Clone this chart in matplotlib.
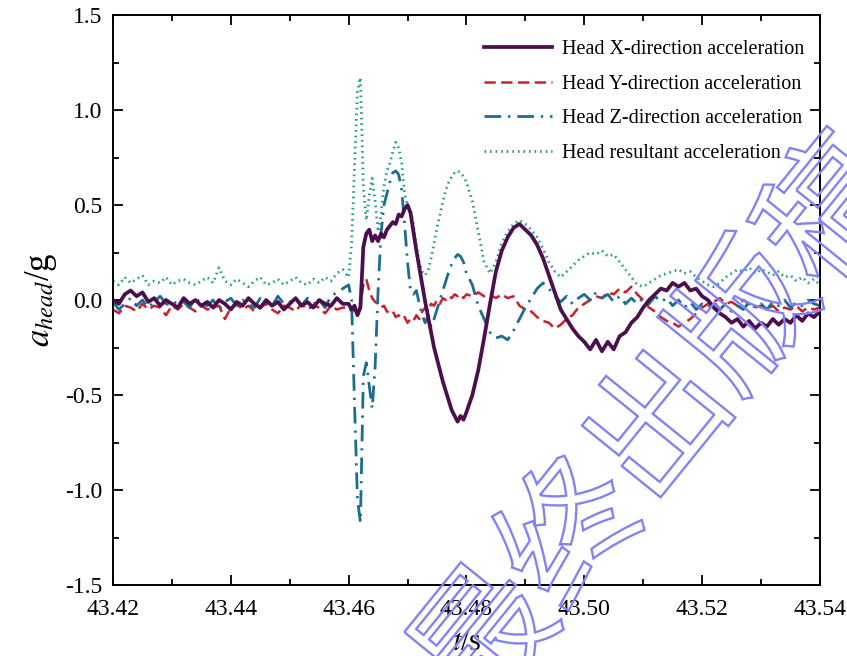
import numpy as np
import matplotlib
matplotlib.use('Agg')
import matplotlib.pyplot as plt
from matplotlib.ticker import MultipleLocator
from matplotlib.textpath import TextPath
from matplotlib.font_manager import FontProperties
from matplotlib.patches import PathPatch
from matplotlib.transforms import Affine2D, IdentityTransform

plt.rcParams['font.family'] = ['Liberation Serif', 'DejaVu Serif']
plt.rcParams['mathtext.fontset'] = 'stix'
plt.rcParams['axes.unicode_minus'] = False

# time grids: 1 ms before/after impact, 0.5 ms during
t_base = 43.420 + 0.001 * np.arange(40)
t_event = 43.460 + 0.0005 * np.arange(40)
t_tail = 43.480 + 0.001 * np.arange(61)

# head X acceleration (g)
x_base = [0.00, -0.02, 0.03, 0.05, 0.02, 0.04, -0.01, 0.01, -0.03, 0.00,
          -0.02, -0.04, 0.01, -0.02, 0.00, -0.03, -0.01, -0.04, 0.00, -0.02,
          -0.05, -0.01, -0.03, 0.01, -0.02, -0.04, 0.00, -0.03, -0.01, -0.05,
          -0.02, 0.01, -0.03, -0.01, -0.04, 0.00, -0.02, -0.03, 0.01, -0.02]
x_event = [-0.02, -0.05, -0.03, -0.08, -0.04, 0.28, 0.35, 0.37, 0.31, 0.34,
           0.31, 0.35, 0.33, 0.37, 0.39, 0.41, 0.40, 0.45, 0.44, 0.48,
           0.50, 0.46, 0.36, 0.26, 0.17, 0.08, -0.01, -0.09, -0.17, -0.25,
           -0.31, -0.37, -0.43, -0.48, -0.53, -0.58, -0.61, -0.64, -0.61, -0.63]
x_tail = [-0.59, -0.50, -0.37, -0.20, -0.02, 0.15, 0.26, 0.33, 0.38, 0.40,
          0.37, 0.34, 0.29, 0.22, 0.13, 0.04, -0.05, -0.10, -0.15, -0.19,
          -0.22, -0.26, -0.21, -0.27, -0.22, -0.26, -0.19, -0.17, -0.12, -0.09,
          -0.04, 0.00, 0.03, 0.06, 0.05, 0.09, 0.07, 0.09, 0.05, 0.06,
          0.02, 0.00, -0.04, -0.07, -0.09, -0.12, -0.10, -0.14, -0.11, -0.15,
          -0.12, -0.14, -0.10, -0.13, -0.10, -0.12, -0.08, -0.11, -0.07, -0.09,
          -0.06]

# head Y acceleration (g)
y_base = [-0.05, -0.07, -0.03, -0.04, -0.06, -0.02, -0.05, -0.03, -0.04, -0.08,
          -0.03, -0.05, -0.02, -0.04, -0.06, -0.03, -0.05, -0.04, -0.03, -0.10,
          -0.04, -0.02, -0.05, -0.03, -0.06, -0.04, -0.02, -0.05, -0.07, -0.03,
          -0.04, -0.06, -0.02, -0.05, -0.03, -0.04, -0.07, -0.03, -0.05, -0.04]
y_event = [-0.04, -0.06, -0.05, -0.08, -0.03, 0.08, 0.11, 0.05, 0.01, -0.01,
           -0.02, -0.04, -0.03, -0.06, -0.07, -0.06, -0.09, -0.08, -0.10, -0.09,
           -0.12, -0.10, -0.11, -0.08, -0.10, -0.06, -0.04, -0.06, -0.02, -0.03,
           0.00, -0.02, 0.01, 0.00, 0.02, 0.01, 0.03, 0.02, 0.03, 0.01]
y_tail = [0.03, 0.02, 0.04, 0.02, 0.03, 0.01, 0.03, 0.01, 0.02, -0.03,
          -0.05, -0.06, -0.09, -0.11, -0.12, -0.15, -0.13, -0.10, -0.08, -0.04,
          -0.02, 0.00, 0.02, 0.01, 0.04, 0.03, 0.06, 0.04, 0.07, 0.03,
          0.00, -0.04, -0.06, -0.09, -0.11, -0.12, -0.14, -0.12, -0.10, -0.07,
          -0.04, -0.02, -0.01, 0.01, -0.02, -0.01, -0.03, 0.00, -0.02, -0.04,
          -0.03, -0.05, -0.03, -0.06, -0.04, -0.05, -0.03, -0.06, -0.04, -0.05,
          -0.04]

# head Z acceleration (g)
z_base = [-0.01, -0.05, -0.02, 0.01, -0.03, 0.00, -0.04, -0.01, 0.02, -0.02,
          -0.03, 0.00, -0.01, -0.04, 0.01, -0.02, -0.03, 0.00, -0.05, -0.01,
          0.01, -0.03, 0.00, -0.02, -0.04, 0.01, -0.01, -0.03, 0.02, -0.02,
          -0.01, 0.00, -0.03, 0.01, -0.02, 0.00, -0.04, 0.02, 0.04, 0.06]
z_event = [0.08, 0.00, -0.55, -1.05, -1.17, -0.40, -0.33, -0.45, -0.57, -0.35,
           0.05, 0.35, 0.50, 0.56, 0.62, 0.67, 0.68, 0.66, 0.58, 0.40,
           0.20, 0.05, 0.03, 0.05, -0.02, -0.08, -0.12, -0.08, -0.14, -0.10,
           -0.05, 0.00, 0.05, 0.10, 0.15, 0.19, 0.22, 0.24, 0.23, 0.20]
z_tail = [0.14, 0.08, -0.03, -0.10, -0.17, -0.20, -0.19, -0.21, -0.16, -0.10,
          -0.04, 0.01, 0.06, 0.09, 0.06, 0.02, -0.01, 0.02, -0.02, 0.01,
          0.03, 0.00, 0.04, 0.01, 0.03, -0.01, 0.02, -0.02, 0.01, -0.02,
          0.01, -0.02, 0.02, -0.01, 0.01, -0.03, 0.00, -0.04, -0.01, -0.05,
          -0.02, -0.04, -0.01, -0.05, -0.02, -0.06, -0.03, -0.05, -0.01, -0.04,
          -0.02, -0.05, -0.01, -0.03, 0.00, -0.04, -0.01, -0.03, 0.00, -0.02,
          -0.03]

# resultant (g)
r_base = [0.10, 0.08, 0.12, 0.09, 0.11, 0.13, 0.08, 0.10, 0.09, 0.12,
          0.08, 0.10, 0.11, 0.09, 0.08, 0.10, 0.12, 0.09, 0.17, 0.10,
          0.08, 0.11, 0.09, 0.07, 0.10, 0.12, 0.08, 0.09, 0.11, 0.08,
          0.10, 0.12, 0.09, 0.08, 0.11, 0.09, 0.12, 0.10, 0.14, 0.16]
r_event = [0.12, 0.30, 0.70, 1.10, 1.17, 0.60, 0.42, 0.55, 0.64, 0.52,
           0.36, 0.45, 0.60, 0.68, 0.72, 0.78, 0.83, 0.80, 0.72, 0.56,
           0.50, 0.47, 0.40, 0.28, 0.20, 0.15, 0.13, 0.16, 0.22, 0.30,
           0.38, 0.45, 0.52, 0.58, 0.62, 0.65, 0.67, 0.68, 0.67, 0.65]
r_tail = [0.62, 0.52, 0.36, 0.20, 0.14, 0.20, 0.30, 0.36, 0.40, 0.42,
          0.40, 0.37, 0.33, 0.27, 0.20, 0.15, 0.12, 0.15, 0.18, 0.21,
          0.23, 0.25, 0.24, 0.26, 0.23, 0.24, 0.20, 0.16, 0.12, 0.08,
          0.07, 0.09, 0.11, 0.13, 0.14, 0.15, 0.16, 0.14, 0.15, 0.12,
          0.10, 0.08, 0.07, 0.09, 0.12, 0.14, 0.16, 0.15, 0.17, 0.14,
          0.16, 0.15, 0.13, 0.15, 0.12, 0.13, 0.10, 0.12, 0.09, 0.11,
          0.08]

labels = ['Head X-direction acceleration', 'Head Y-direction acceleration',
          'Head Z-direction acceleration', 'Head resultant acceleration']

t = np.concatenate([t_base, t_event, t_tail])
ax_x = np.concatenate([x_base, x_event, x_tail])
ax_y = np.concatenate([y_base, y_event, y_tail])
ax_z = np.concatenate([z_base, z_event, z_tail])
ax_r = np.concatenate([r_base, r_event, r_tail])

fig = plt.figure(figsize=(8.47, 6.56), dpi=100)
fig.set_facecolor('white')
ax = fig.add_axes([0.1334, 0.1082, 0.8346, 0.8689])

l_r, = ax.plot(t, ax_r, color='#2a9d8a', lw=2.0, ls=(0, (0.6, 1.4)), label=labels[3])
l_y, = ax.plot(t, ax_y, color='#c8202e', lw=1.8, ls=(0, (4.5, 2.2)), label=labels[1])
l_z, = ax.plot(t, ax_z, color='#1b6e8f', lw=2.0, ls=(0, (6, 2.5, 0.8, 2.5)), label=labels[2])
l_x, = ax.plot(t, ax_x, color='#4b0f4e', lw=2.7, label=labels[0])

ax.set_xlim(43.42, 43.54)
ax.set_ylim(-1.5, 1.5)
ax.xaxis.set_minor_locator(MultipleLocator(0.01))
ax.yaxis.set_major_locator(MultipleLocator(0.5))
ax.yaxis.set_minor_locator(MultipleLocator(0.25))
xt = np.arange(43.42, 43.5401, 0.02)
ax.set_xticks(xt)
ax.set_xticklabels(['%.2f' % v for v in xt])
ax.tick_params(which='both', direction='in', top=True, right=True, width=1.3,
               labelsize=17)
ax.tick_params(axis='x', pad=10)
ax.tick_params(axis='y', pad=8)
ax.tick_params(which='major', length=7)
ax.tick_params(which='minor', length=4)
for s in ax.spines.values():
    s.set_linewidth(1.4)

ax.set_xlabel('$t$/s', fontsize=22, labelpad=6)
ax.set_ylabel('$a_{head}$/g', fontsize=25, labelpad=4)

ax.legend(handles=[l_x, l_y, l_z, l_r], loc='upper right', frameon=False,
          fontsize=14.5, handlelength=3.4, handletextpad=0.45, labelspacing=0.78,
          bbox_to_anchor=(1.0, 0.985), borderaxespad=0.4)

# watermark, hollow characters
fp = FontProperties(family='Noto Sans CJK SC')
tp = TextPath((0, 0), '最终出版稿', size=138, prop=fp)
bb = tp.get_extents()
tr = Affine2D().translate(-bb.x0 - bb.width / 2, -bb.y0 - bb.height / 2)
tr = tr.rotate_deg(51).translate(652, 656 - 420)
wm = PathPatch(tr.transform_path(tp), facecolor='none', edgecolor='#8282f5',
               lw=1.7, transform=IdentityTransform(), zorder=10)
fig.add_artist(wm)

fig.savefig('out.png', dpi=100)
